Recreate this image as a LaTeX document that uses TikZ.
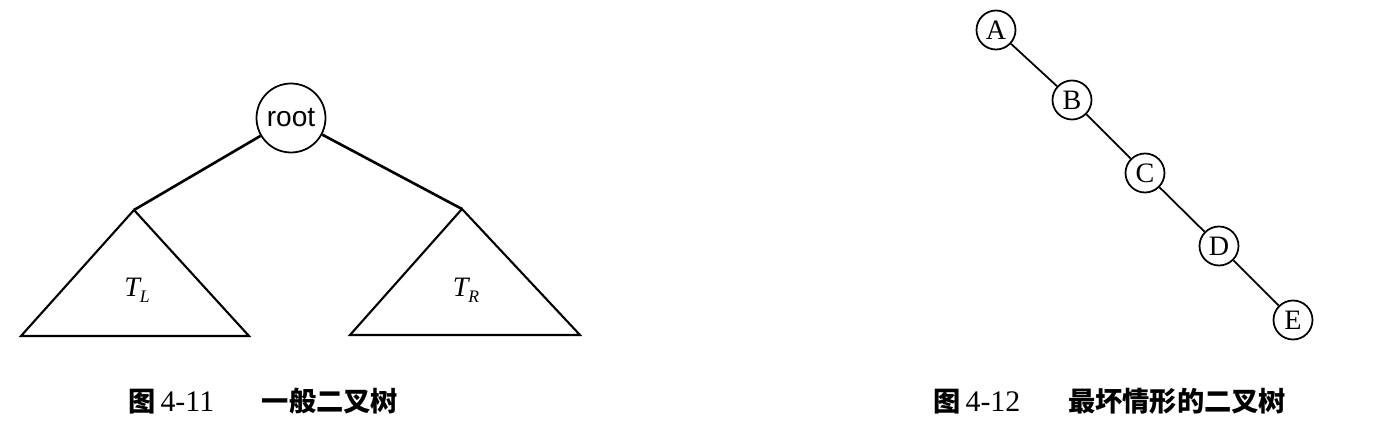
\documentclass[tikz,border=0pt]{standalone}
\usepackage{fontspec}
\setmainfont{Liberation Serif}
\newfontfamily\cjk{Noto Sans CJK SC}
\newfontfamily\rootfont{Liberation Sans}
\begin{document}
\begin{tikzpicture}[x=0.02cm,y=-0.02cm,
  rootnode/.style={circle,draw,line width=1pt,minimum size=1.38cm,inner sep=0pt,font=\rootfont\fontsize{16}{18}\selectfont},
  letter/.style={circle,draw,line width=1pt,minimum size=0.78cm,inner sep=0pt,font=\fontsize{16}{18}\selectfont},
  thick edge/.style={line width=1.5pt},
  tri/.style={line width=1.2pt,line join=miter},
  chain/.style={line width=1pt},
  caption/.style={font=\fontsize{17}{20}\selectfont,inner sep=0pt,anchor=west},
  sublabel/.style={font=\fontsize{16}{18}\selectfont\itshape,inner sep=0pt}]
\useasboundingbox (0,0) rectangle (1400,432);
% Figure 4-11
\node[rootnode] (root) at (291,118) {root};
\coordinate (la) at (134,210);
\coordinate (lbl) at (21,336);
\coordinate (lbr) at (249,336);
\coordinate (ra) at (462,209);
\coordinate (rbl) at (350,335);
\coordinate (rbr) at (580,335);
\draw[thick edge] (root) -- (la);
\draw[thick edge] (root) -- (ra);
\draw[tri] (la) -- (lbl) -- (lbr) -- cycle;
\draw[tri] (ra) -- (rbl) -- (rbr) -- cycle;
\node[sublabel] (tl) at (137,290) {T\raisebox{-0.45ex}{\fontsize{10}{12}\selectfont L}};
\node[sublabel] (tr) at (466,290) {T\raisebox{-0.45ex}{\fontsize{10}{12}\selectfont R}};
\node[caption] (cap1) at (128,401) {{\cjk\bfseries\fontsize{15.5}{18}\selectfont 图}\,4-11\hspace{1.6em}{\cjk\bfseries\fontsize{15.5}{18}\selectfont 一般二叉树}};
% Figure 4-12
\node[letter] (A) at (996,30) {A};
\node[letter] (B) at (1072,100) {B};
\node[letter] (C) at (1145,173) {C};
\node[letter] (D) at (1219,246) {D};
\node[letter] (E) at (1293,320) {E};
\draw[chain] (A) -- (B);
\draw[chain] (B) -- (C);
\draw[chain] (C) -- (D);
\draw[chain] (D) -- (E);
\node[caption] (cap2) at (933,401) {{\cjk\bfseries\fontsize{15.5}{18}\selectfont 图}\,4-12\hspace{1.6em}{\cjk\bfseries\fontsize{15.5}{18}\selectfont 最坏情形的二叉树}};
\end{tikzpicture}
\end{document}
